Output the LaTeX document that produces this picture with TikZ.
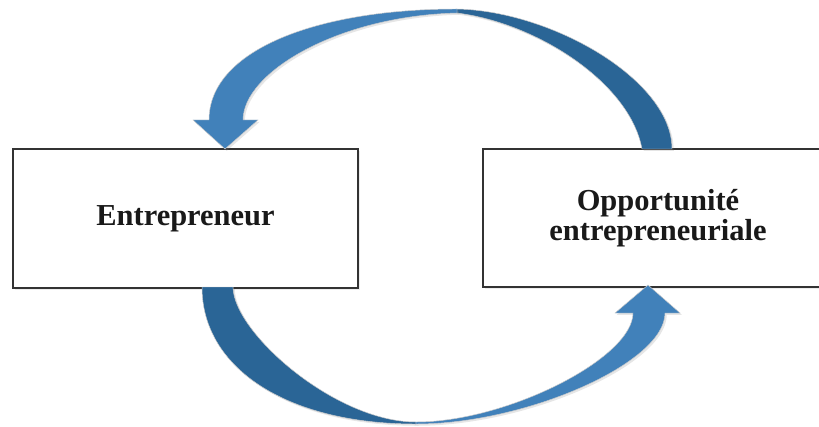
\documentclass[tikz,border=0pt]{standalone}
\usepackage{fontspec}
\setmainfont{Liberation Serif}
\usetikzlibrary{shadows}
\definecolor{arrowlight}{RGB}{65,129,186}
\definecolor{arrowdark}{RGB}{42,101,150}
\tikzset{
  box/.style={draw=black!80,line width=1pt,fill=white,align=center,
    drop shadow={shadow xshift=1.5pt,shadow yshift=-1.5pt,opacity=.15},
    font=\fontsize{26}{26}\selectfont\bfseries,text=black!90},
  curvearrow/.style={draw=black!20,line width=.4pt,
    drop shadow={shadow xshift=1.5pt,shadow yshift=-1.5pt,opacity=.2}}
}

\begin{document}
\begin{tikzpicture}[x=0.03cm,y=-0.03cm]
  \clip (0,0) rectangle (819,427);
  \node[box,minimum width=10.35cm,minimum height=4.17cm] (ent) at (185.5,218.5) {Entrepreneur};
  \node[box,minimum width=10.5cm,minimum height=4.14cm] (opp) at (658,218) {Opportunit\'e\\entrepreneuriale};
  % upper arrow, from opp back to ent
  \path[curvearrow,fill=arrowdark] (672,149) .. controls (672,80) and (552,11) .. (457,9) -- (457,13) .. controls (537,23) and (630,83) .. (642,149) -- cycle;
  \path[curvearrow,fill=arrowlight] (457,9) .. controls (317,9) and (209,50) .. (209,120) -- (193,120) -- (225,149) -- (258,120) -- (243,120) .. controls (243,73) and (337,16) .. (457,13) -- cycle;
  % lower arrow, from ent to opp
  \path[curvearrow,fill=arrowdark] (202,287) .. controls (202,367) and (285,424) .. (416,424) -- (416,422) .. controls (335,422) and (233,332) .. (233,287) -- cycle;
  \path[curvearrow,fill=arrowlight] (416,424) .. controls (526,424) and (665,363) .. (665,313) -- (680,313) -- (648,285) -- (615,313) -- (633,313) .. controls (633,358) and (507,422) .. (416,422) -- cycle;
\end{tikzpicture}
\end{document}
